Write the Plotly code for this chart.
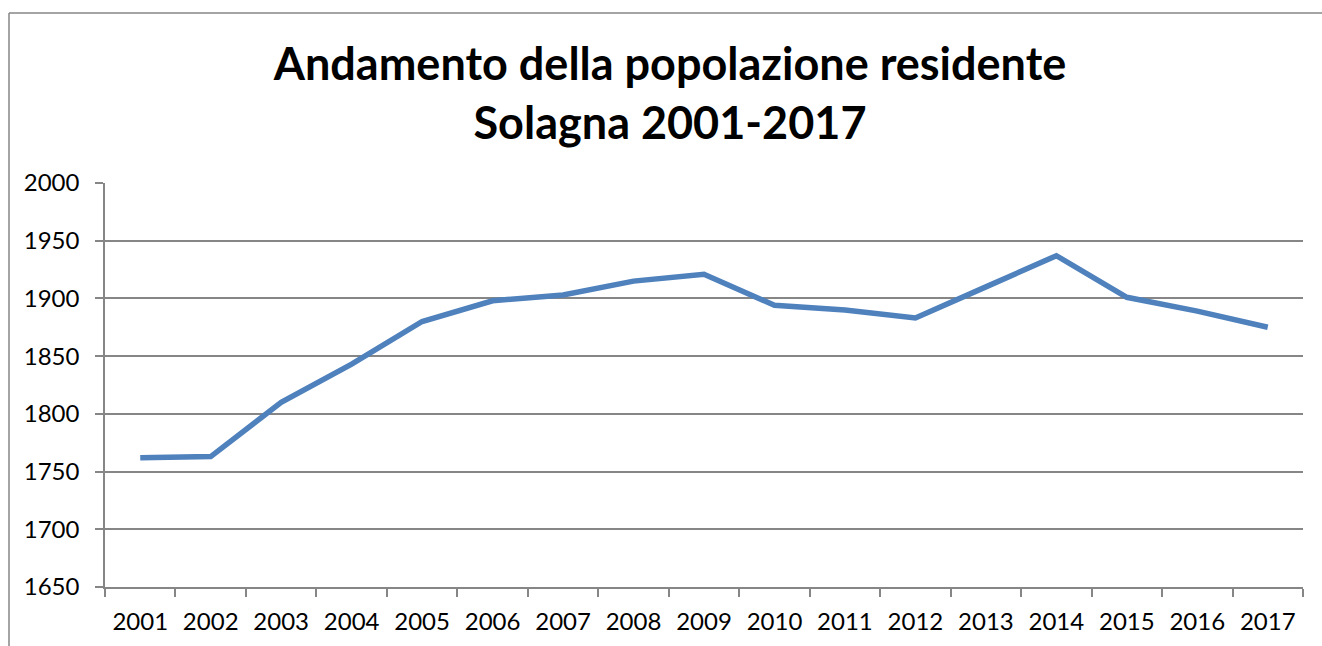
import plotly.graph_objects as go

anni = ["2001", "2002", "2003", "2004", "2005", "2006", "2007", "2008", "2009",
        "2010", "2011", "2012", "2013", "2014", "2015", "2016", "2017"]
popolazione = [1762, 1763, 1810, 1843, 1880, 1898, 1903, 1915, 1921,
               1894, 1890, 1883, 1910, 1937, 1901, 1889, 1875]
titolo = "Andamento della popolazione residente<br>Solagna 2001-2017"
y_ticks = [1650, 1700, 1750, 1800, 1850, 1900, 1950, 2000]

GRID = "#868686"

fig = go.Figure()
fig.add_trace(go.Scatter(
    x=anni, y=popolazione, mode="lines",
    line=dict(color="#4F81BD", width=5.5),
    hoverinfo="x+y", showlegend=False,
))

fig.update_layout(
    width=1322, height=646,
    margin=dict(l=105, r=19, t=183, b=59),
    paper_bgcolor="white", plot_bgcolor="white",
    font=dict(family="Lato, Noto Sans, sans-serif", color="black", size=24),
    title=dict(
        text=titolo,
        x=670 / 1322, xanchor="center", xref="container",
        y=1 - 80 / 646, yanchor="middle", yref="container",
        font=dict(family="Lato, sans-serif", size=45, color="black", weight="bold"),
    ),
    xaxis=dict(
        type="category",
        range=[-0.5, 16.5],
        tickson="boundaries",
        ticks="outside", ticklen=8, tickcolor=GRID, tickwidth=1.5,
        showline=True, linecolor=GRID, linewidth=1.5,
        showgrid=False, zeroline=False,
        ticklabelstandoff=12,
        tickfont=dict(size=24),
    ),
    yaxis=dict(
        range=[1650, 2000],
        tickvals=y_ticks,
        ticks="outside", ticklen=8, tickcolor=GRID, tickwidth=1.5,
        showline=True, linecolor=GRID, linewidth=1.5,
        showgrid=True, gridcolor=GRID, gridwidth=1.5,
        zeroline=False,
        ticklabelstandoff=11,
        tickfont=dict(size=24),
    ),
)

# chart-area frame: only the top and left edges are visible in the page
x_left = (9 - 105) / 1198
y_top = 1 + (183 - 13) / 404
fig.add_shape(type="line", xref="paper", yref="paper",
              x0=x_left, x1=(1322 - 105) / 1198, y0=y_top, y1=y_top,
              line=dict(color=GRID, width=1.5), layer="below")
fig.add_shape(type="line", xref="paper", yref="paper",
              x0=x_left, x1=x_left, y0=y_top, y1=(587 - 646) / 404,
              line=dict(color=GRID, width=1.5), layer="below")

fig.write_html(
    "out.html",
    config={"displayModeBar": False},
    post_script="document.body.style.margin='0';document.body.style.overflow='hidden';",
)
